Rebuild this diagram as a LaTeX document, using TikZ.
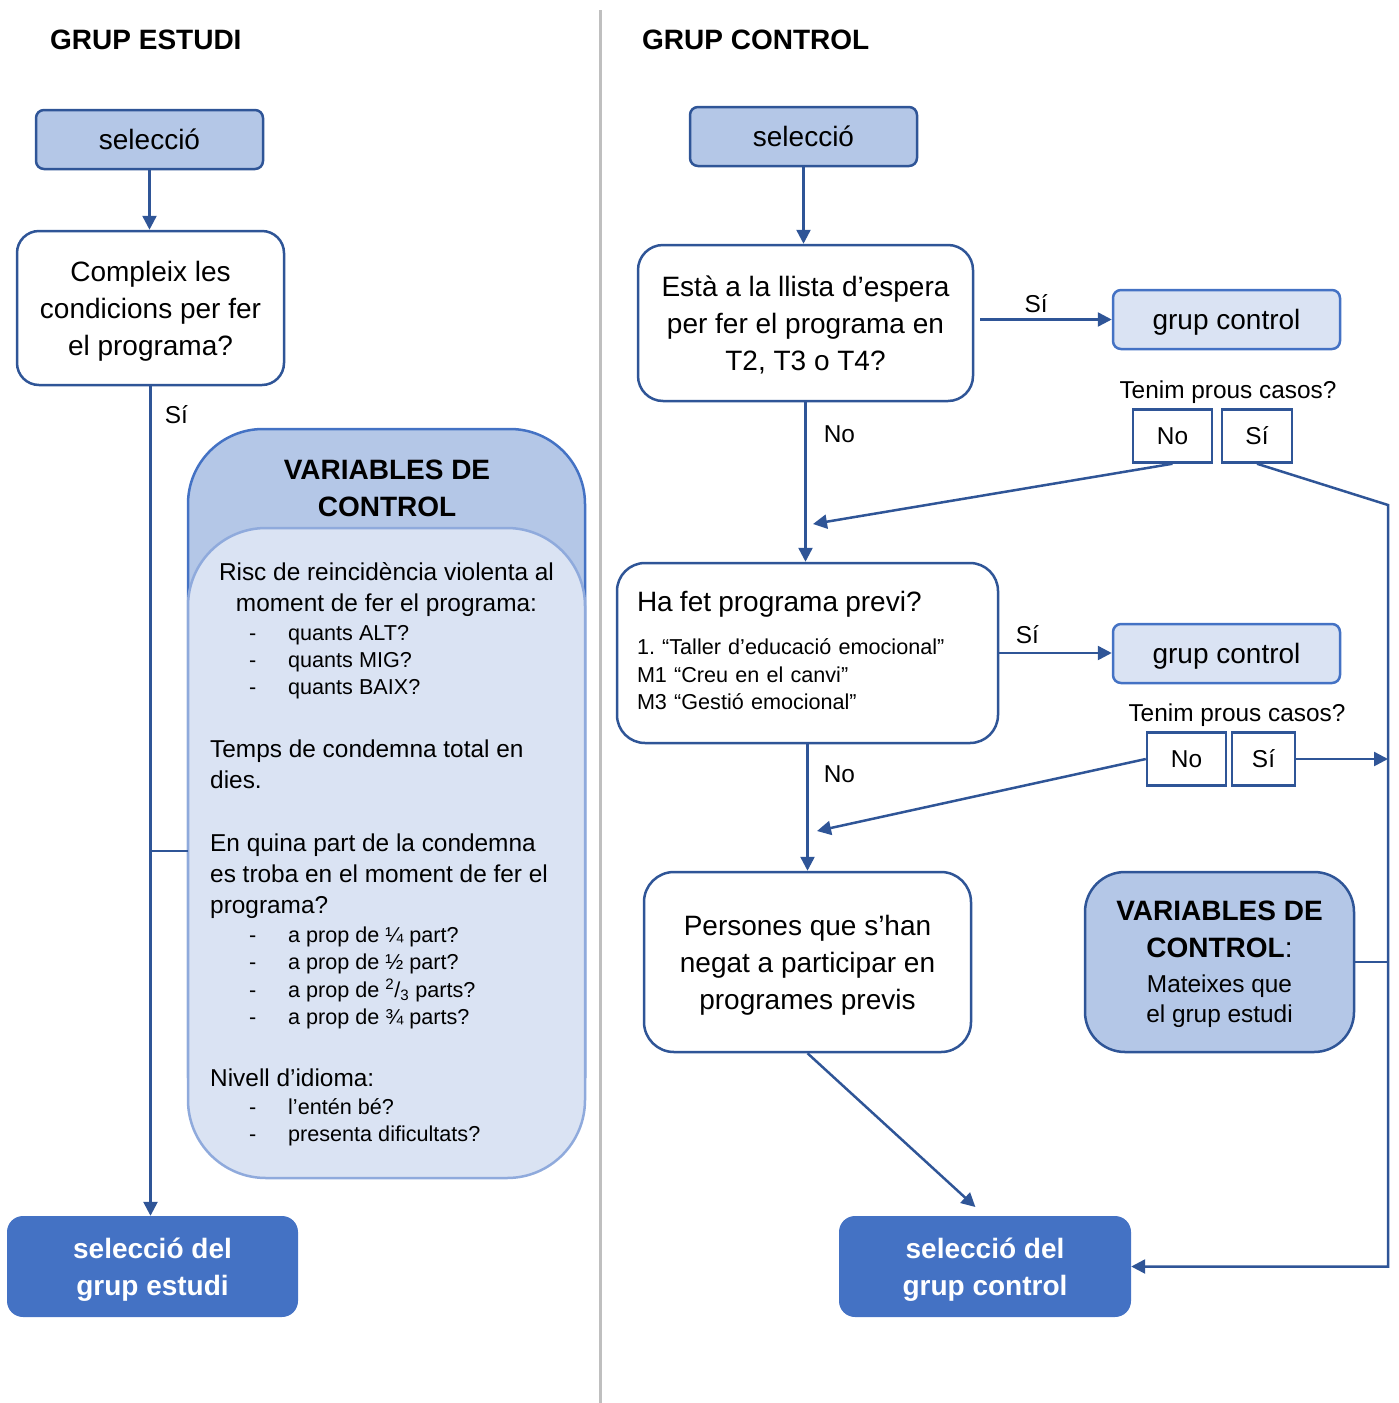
\documentclass[tikz,border=0pt]{standalone}
\usepackage{fontspec}
\setmainfont{Liberation Sans}
\usetikzlibrary{arrows.meta,positioning,calc}
\definecolor{blaufosc}{HTML}{2F5597}
\definecolor{blaumig}{HTML}{4472C4}
\definecolor{blauclar}{HTML}{B4C7E7}
\definecolor{blaupal}{HTML}{DAE3F3}
\definecolor{blauvora}{HTML}{8FAADC}
\definecolor{gris}{HTML}{BFBFBF}
\newcommand\mida[2]{\fontsize{#1}{#2}\selectfont}
\newcommand\guio{\makebox[39pt][l]{-}}

\begin{document}
\begin{tikzpicture}[
    x=1pt, y=-1pt,
    selbox/.style={
        rectangle, draw=blaufosc, fill=blauclar,
        minimum width=227pt, minimum height=59pt,
        rounded corners=8pt, line width=2.5pt,
        font=\mida{28}{37}
    },
    qbox/.style={
        rectangle, draw=blaufosc, fill=white,
        align=center, line width=2.5pt, text depth=0pt,
        font=\mida{28}{37}
    },
    gcbox/.style={
        rectangle, draw=blaumig, fill=blaupal,
        minimum width=227pt, minimum height=59pt,
        rounded corners=8pt, line width=2.5pt, text depth=0pt,
        font=\mida{28}{37}
    },
    ynbox/.style={
        rectangle, draw=blaufosc, fill=white,
        minimum height=53pt, line width=2.5pt,
        font=\mida{24.4}{30}
    },
    endbox/.style={
        rectangle, fill=blaumig, text=white,
        minimum width=292pt, minimum height=101pt,
        rounded corners=16pt, align=center, text depth=0pt,
        font=\mida{28}{37}\bfseries
    },
    titol/.style={anchor=west, inner sep=0pt, font=\mida{28}{34}\bfseries},
    txt/.style={inner sep=0pt, align=left, font=\mida{24.4}{31}},
    llista/.style={anchor=west, inner sep=0pt, align=left, font=\mida{21.6}{27.3}},
    lbl/.style={inner sep=0pt, font=\mida{24.4}{30}},
    arrow/.style={
        -{Triangle[length=14pt,width=14pt]}, line width=2.5pt, draw=blaufosc
    },
    conn/.style={line width=2.5pt, draw=blaufosc}
]
\useasboundingbox (0,0) rectangle (1398,1403);

% Separator
\draw[gris, line width=3pt] (600,10) -- (600,1403);

% Titles
\node[titol] (titolE) at (50,40) {GRUP ESTUDI};
\node[titol] (titolC) at (642,40) {GRUP CONTROL};

% Grup estudi
\node[selbox] (selE) at (149.5,139.5) {selecció};
\node[qbox, rounded corners=22pt, minimum width=267pt, minimum height=154pt] (compE) at (150.5,308)
    {Compleix les\\condicions per fer\\el programa?};
\node[endbox, minimum width=291pt] (finE) at (152.5,1266.5) {selecció del\\grup estudi};

% Variables de control (estudi)
\node[minimum width=397pt, minimum height=749pt, inner sep=0pt, outer sep=0pt] (varE) at (386.5,803.5) {};
\draw[draw=blaumig, fill=blauclar, line width=2.5pt, rounded corners=75pt]
    ($(varE.south west)+(0,-100)$) -- (varE.north west) -- (varE.north east) -- ($(varE.south east)+(0,-100)$);
\draw[draw=blauvora, fill=blaupal, line width=2.5pt, rounded corners=78pt]
    ($(varE.north west)+(0,99)$) rectangle (varE.south east);
\node[inner sep=0pt, align=center, font=\mida{28}{37}\bfseries] (varEtitol) at (387,488.5) {VARIABLES DE\\CONTROL};
\node[txt, align=center] (risc) at (386.5,590) {Risc de reincidència violenta al\\moment de fer el programa:};
\node[llista] (llista1) at (249,662) {\guio quants ALT?\\\guio quants MIG?\\\guio quants BAIX?};
\node[txt, anchor=west] (temps) at (210,764.5) {Temps de condemna total en\\dies.};
\node[txt, anchor=west] (quina) at (210,876) {En quina part de la condemna\\es troba en el moment de fer el\\programa?};
\node[llista] (llista2) at (249,978)
    {\guio a prop de ¼ part?\\\guio a prop de ½ part?\\\guio a prop de \textsuperscript{2}/\textsubscript{3} parts?\\\guio a prop de ¾ parts?};
\node[txt, anchor=west] (nivell) at (210,1078) {Nivell d’idioma:};
\node[llista] (llista3) at (249,1122) {\guio l’entén bé?\\\guio presenta dificultats?};
\coordinate (varEin) at (188,851);

% Grup control
\node[selbox] (selC) at (803.5,136.5) {selecció};
\node[qbox, rounded corners=25pt, minimum width=335pt, minimum height=156pt] (espera) at (805.5,323)
    {Està a la llista d’espera\\per fer el programa en\\T2, T3 o T4?};
\node[gcbox] (gc1) at (1226.5,319.5) {grup control};
\node[lbl] (tenim1) at (1228,392) {Tenim prous casos?};
\node[ynbox, minimum width=79pt] (no1) at (1172.5,436) {No};
\node[ynbox, minimum width=70pt] (si1) at (1257,436) {Sí};

\node[rectangle, draw=blaufosc, fill=white, line width=2.5pt, align=left, rounded corners=28pt,
      text width=341pt, inner xsep=20pt, minimum height=180pt, text height=15.5pt,
      font=\mida{21.6}{27.5}] (previ) at (807.5,653)
    {{\mida{28}{34}Ha fet programa previ?}\\[16pt]1.\ “Taller d’educació emocional”\\M1 “Creu en el canvi”\\M3 “Gestió emocional”};
\node[gcbox] (gc2) at (1226.5,653.5) {grup control};
\node[lbl] (tenim2) at (1237,715) {Tenim prous casos?};
\node[ynbox, minimum width=79pt] (no2) at (1186.5,759) {No};
\node[ynbox, minimum width=63pt] (si2) at (1263.5,759) {Sí};

\node[qbox, rounded corners=30pt, minimum width=327pt, minimum height=180pt] (persones) at (807.5,962)
    {Persones que s’han\\negat a participar en\\programes previs};
\node[qbox, fill=blauclar, rounded corners=40pt, minimum width=269pt, minimum height=180pt,
      font=\mida{24.4}{30}] (varC) at (1219.5,962)
    {{\mida{28}{37}\bfseries VARIABLES DE}\\[7pt]{\mida{28}{37}\bfseries CONTROL}{\mida{28}{37}:}\\[5pt]Mateixes que\\el grup estudi};
\node[endbox] (finC) at (985,1266.5) {selecció del\\grup control};

\coordinate (m1) at (813,524);
\coordinate (m2) at (817,831);
\coordinate (cor1) at (1388,505);

% Arrows
\draw[arrow] (selE.south) -- (selE.south |- compE.north);
\draw[arrow] (compE.south) -- node[lbl, pos=0.034, right=13pt] {Sí} (compE.south |- finE.north);
\draw[conn] (compE.south |- varEin) -- (varEin);

\draw[arrow] (selC.south) -- (selC.south |- espera.north);
\draw[arrow, shorten <=6pt] (espera.east |- gc1.west) -- node[lbl, pos=0.45, above=6pt] {Sí} (gc1.west);
\draw[arrow] (espera.south) -- node[lbl, pos=0.2, right=17pt] {No} (espera.south |- previ.north);
\draw[arrow] (no1.south) -- (m1);
\draw[arrow] (si1.south) -- (cor1) -- (cor1 |- finC.east) -- (finC.east);

\draw[arrow] (previ.east) -- node[lbl, pos=0.25, above=8pt] {Sí} (gc2.west |- previ.east);
\draw[arrow] (previ.south) -- node[lbl, pos=0.24, right=15pt] {No} (previ.south |- persones.north);
\draw[arrow] (no2.west) -- (m2);
\draw[arrow] (si2.east) -- (cor1 |- si2.east);

\draw[conn] (varC.east) -- (cor1 |- varC.east);
\draw[arrow, shorten >=13pt] (persones.south) -- (finC.north);

\end{tikzpicture}
\end{document}
